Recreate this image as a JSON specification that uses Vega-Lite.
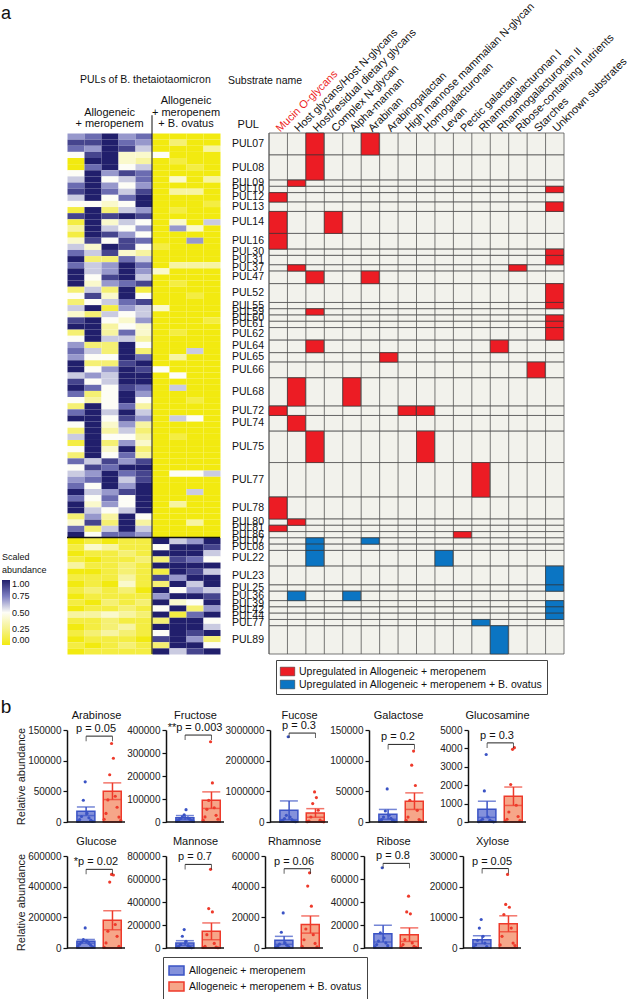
{
"$schema":"https://vega.github.io/schema/vega-lite/v6.json",
"padding":{"left":0,"top":0,"right":0,"bottom":0},
"config":{"font":"Liberation Sans","view":{"stroke":null},
"title":{"fontSize":11,"fontWeight":"normal","color":"#111","offset":2},
"axisY":{"domainColor":"#111","domainWidth":1.5,"tickColor":"#111","tickWidth":1.2,"tickSize":4,"labelFontSize":10,"labelColor":"#222","grid":false,"tickCount":4,"format":"d","minExtent":40,"titleFontSize":11,"titleFontWeight":"normal","titleColor":"#222","titlePadding":1,"labelPadding":2},
"axisX":{"domain":false,"ticks":false,"labels":false,"grid":false,"titlePadding":10,"titleFontSize":11,"titleFontWeight":"normal","titleColor":"#111","minExtent":0},
"text":{"color":"#111"},
"legend":{"labelColor":"#111","titleColor":"#111","labelLimit":400}},
"datasets":{
"hm":[
{"r":0,"c":0,"v":7},{"r":0,"c":1,"v":8},{"r":0,"c":2,"v":10},{"r":0,"c":3,"v":7},{"r":0,"c":4,"v":8},{"r":0,"c":5,"v":0},{"r":0,"c":6,"v":0},{"r":0,"c":7,"v":0},{"r":0,"c":8,"v":0},
{"r":1,"c":0,"v":9},{"r":1,"c":1,"v":9},{"r":1,"c":2,"v":10},{"r":1,"c":3,"v":8},{"r":1,"c":4,"v":7},{"r":1,"c":5,"v":0},{"r":1,"c":6,"v":2},{"r":1,"c":7,"v":0},{"r":1,"c":8,"v":0},
{"r":2,"c":0,"v":8},{"r":2,"c":1,"v":7},{"r":2,"c":2,"v":10},{"r":2,"c":3,"v":9},{"r":2,"c":4,"v":6},{"r":2,"c":5,"v":0},{"r":2,"c":6,"v":0},{"r":2,"c":7,"v":0},{"r":2,"c":8,"v":3},
{"r":3,"c":0,"v":5},{"r":3,"c":1,"v":9},{"r":3,"c":2,"v":10},{"r":3,"c":3,"v":4},{"r":3,"c":4,"v":4},{"r":3,"c":5,"v":5},{"r":3,"c":6,"v":0},{"r":3,"c":7,"v":0},{"r":3,"c":8,"v":0},
{"r":4,"c":0,"v":0},{"r":4,"c":1,"v":10},{"r":4,"c":2,"v":10},{"r":4,"c":3,"v":4},{"r":4,"c":4,"v":3},{"r":4,"c":5,"v":0},{"r":4,"c":6,"v":1},{"r":4,"c":7,"v":0},{"r":4,"c":8,"v":0},
{"r":5,"c":0,"v":0},{"r":5,"c":1,"v":8},{"r":5,"c":2,"v":10},{"r":5,"c":3,"v":5},{"r":5,"c":4,"v":6},{"r":5,"c":5,"v":0},{"r":5,"c":6,"v":0},{"r":5,"c":7,"v":1},{"r":5,"c":8,"v":0},
{"r":6,"c":0,"v":5},{"r":6,"c":1,"v":10},{"r":6,"c":2,"v":7},{"r":6,"c":3,"v":9},{"r":6,"c":4,"v":8},{"r":6,"c":5,"v":0},{"r":6,"c":6,"v":0},{"r":6,"c":7,"v":0},{"r":6,"c":8,"v":0},
{"r":7,"c":0,"v":6},{"r":7,"c":1,"v":10},{"r":7,"c":2,"v":5},{"r":7,"c":3,"v":6},{"r":7,"c":4,"v":8},{"r":7,"c":5,"v":0},{"r":7,"c":6,"v":4},{"r":7,"c":7,"v":0},{"r":7,"c":8,"v":3},
{"r":8,"c":0,"v":8},{"r":8,"c":1,"v":10},{"r":8,"c":2,"v":7},{"r":8,"c":3,"v":5},{"r":8,"c":4,"v":7},{"r":8,"c":5,"v":0},{"r":8,"c":6,"v":0},{"r":8,"c":7,"v":0},{"r":8,"c":8,"v":0},
{"r":9,"c":0,"v":9},{"r":9,"c":1,"v":10},{"r":9,"c":2,"v":8},{"r":9,"c":3,"v":6},{"r":9,"c":4,"v":9},{"r":9,"c":5,"v":0},{"r":9,"c":6,"v":3},{"r":9,"c":7,"v":3},{"r":9,"c":8,"v":0},
{"r":10,"c":0,"v":6},{"r":10,"c":1,"v":10},{"r":10,"c":2,"v":5},{"r":10,"c":3,"v":8},{"r":10,"c":4,"v":10},{"r":10,"c":5,"v":0},{"r":10,"c":6,"v":0},{"r":10,"c":7,"v":0},{"r":10,"c":8,"v":0},
{"r":11,"c":0,"v":5},{"r":11,"c":1,"v":5},{"r":11,"c":2,"v":4},{"r":11,"c":3,"v":5},{"r":11,"c":4,"v":10},{"r":11,"c":5,"v":0},{"r":11,"c":6,"v":0},{"r":11,"c":7,"v":0},{"r":11,"c":8,"v":1},
{"r":12,"c":0,"v":1},{"r":12,"c":1,"v":10},{"r":12,"c":2,"v":2},{"r":12,"c":3,"v":6},{"r":12,"c":4,"v":7},{"r":12,"c":5,"v":0},{"r":12,"c":6,"v":1},{"r":12,"c":7,"v":0},{"r":12,"c":8,"v":0},
{"r":13,"c":0,"v":9},{"r":13,"c":1,"v":10},{"r":13,"c":2,"v":9},{"r":13,"c":3,"v":10},{"r":13,"c":4,"v":9},{"r":13,"c":5,"v":0},{"r":13,"c":6,"v":0},{"r":13,"c":7,"v":0},{"r":13,"c":8,"v":0},
{"r":14,"c":0,"v":1},{"r":14,"c":1,"v":10},{"r":14,"c":2,"v":4},{"r":14,"c":3,"v":6},{"r":14,"c":4,"v":5},{"r":14,"c":5,"v":0},{"r":14,"c":6,"v":4},{"r":14,"c":7,"v":0},{"r":14,"c":8,"v":6},
{"r":15,"c":0,"v":3},{"r":15,"c":1,"v":10},{"r":15,"c":2,"v":6},{"r":15,"c":3,"v":5},{"r":15,"c":4,"v":7},{"r":15,"c":5,"v":0},{"r":15,"c":6,"v":7},{"r":15,"c":7,"v":4},{"r":15,"c":8,"v":0},
{"r":16,"c":0,"v":1},{"r":16,"c":1,"v":10},{"r":16,"c":2,"v":9},{"r":16,"c":3,"v":7},{"r":16,"c":4,"v":5},{"r":16,"c":5,"v":0},{"r":16,"c":6,"v":0},{"r":16,"c":7,"v":0},{"r":16,"c":8,"v":0},
{"r":17,"c":0,"v":4},{"r":17,"c":1,"v":9},{"r":17,"c":2,"v":5},{"r":17,"c":3,"v":9},{"r":17,"c":4,"v":8},{"r":17,"c":5,"v":0},{"r":17,"c":6,"v":0},{"r":17,"c":7,"v":7},{"r":17,"c":8,"v":0},
{"r":18,"c":0,"v":6},{"r":18,"c":1,"v":4},{"r":18,"c":2,"v":10},{"r":18,"c":3,"v":9},{"r":18,"c":4,"v":5},{"r":18,"c":5,"v":1},{"r":18,"c":6,"v":0},{"r":18,"c":7,"v":0},{"r":18,"c":8,"v":0},
{"r":19,"c":0,"v":8},{"r":19,"c":1,"v":6},{"r":19,"c":2,"v":9},{"r":19,"c":3,"v":4},{"r":19,"c":4,"v":3},{"r":19,"c":5,"v":0},{"r":19,"c":6,"v":0},{"r":19,"c":7,"v":0},{"r":19,"c":8,"v":0},
{"r":20,"c":0,"v":10},{"r":20,"c":1,"v":2},{"r":20,"c":2,"v":2},{"r":20,"c":3,"v":8},{"r":20,"c":4,"v":6},{"r":20,"c":5,"v":0},{"r":20,"c":6,"v":0},{"r":20,"c":7,"v":0},{"r":20,"c":8,"v":0},
{"r":21,"c":0,"v":8},{"r":21,"c":1,"v":6},{"r":21,"c":2,"v":7},{"r":21,"c":3,"v":10},{"r":21,"c":4,"v":8},{"r":21,"c":5,"v":0},{"r":21,"c":6,"v":3},{"r":21,"c":7,"v":3},{"r":21,"c":8,"v":3},
{"r":22,"c":0,"v":10},{"r":22,"c":1,"v":6},{"r":22,"c":2,"v":7},{"r":22,"c":3,"v":10},{"r":22,"c":4,"v":7},{"r":22,"c":5,"v":4},{"r":22,"c":6,"v":0},{"r":22,"c":7,"v":0},{"r":22,"c":8,"v":0},
{"r":23,"c":0,"v":10},{"r":23,"c":1,"v":5},{"r":23,"c":2,"v":9},{"r":23,"c":3,"v":10},{"r":23,"c":4,"v":6},{"r":23,"c":5,"v":0},{"r":23,"c":6,"v":0},{"r":23,"c":7,"v":0},{"r":23,"c":8,"v":0},
{"r":24,"c":0,"v":10},{"r":24,"c":1,"v":4},{"r":24,"c":2,"v":7},{"r":24,"c":3,"v":8},{"r":24,"c":4,"v":9},{"r":24,"c":5,"v":0},{"r":24,"c":6,"v":1},{"r":24,"c":7,"v":0},{"r":24,"c":8,"v":0},
{"r":25,"c":0,"v":2},{"r":25,"c":1,"v":6},{"r":25,"c":2,"v":2},{"r":25,"c":3,"v":10},{"r":25,"c":4,"v":1},{"r":25,"c":5,"v":0},{"r":25,"c":6,"v":0},{"r":25,"c":7,"v":0},{"r":25,"c":8,"v":0},
{"r":26,"c":0,"v":5},{"r":26,"c":1,"v":9},{"r":26,"c":2,"v":4},{"r":26,"c":3,"v":10},{"r":26,"c":4,"v":5},{"r":26,"c":5,"v":0},{"r":26,"c":6,"v":0},{"r":26,"c":7,"v":1},{"r":26,"c":8,"v":0},
{"r":27,"c":0,"v":2},{"r":27,"c":1,"v":5},{"r":27,"c":2,"v":6},{"r":27,"c":3,"v":8},{"r":27,"c":4,"v":9},{"r":27,"c":5,"v":0},{"r":27,"c":6,"v":0},{"r":27,"c":7,"v":0},{"r":27,"c":8,"v":0},
{"r":28,"c":0,"v":6},{"r":28,"c":1,"v":10},{"r":28,"c":2,"v":1},{"r":28,"c":3,"v":7},{"r":28,"c":4,"v":6},{"r":28,"c":5,"v":4},{"r":28,"c":6,"v":0},{"r":28,"c":7,"v":0},{"r":28,"c":8,"v":0},
{"r":29,"c":0,"v":4},{"r":29,"c":1,"v":2},{"r":29,"c":2,"v":6},{"r":29,"c":3,"v":5},{"r":29,"c":4,"v":6},{"r":29,"c":5,"v":0},{"r":29,"c":6,"v":0},{"r":29,"c":7,"v":0},{"r":29,"c":8,"v":0},
{"r":30,"c":0,"v":9},{"r":30,"c":1,"v":10},{"r":30,"c":2,"v":5},{"r":30,"c":3,"v":4},{"r":30,"c":4,"v":7},{"r":30,"c":5,"v":0},{"r":30,"c":6,"v":0},{"r":30,"c":7,"v":0},{"r":30,"c":8,"v":1},
{"r":31,"c":0,"v":10},{"r":31,"c":1,"v":10},{"r":31,"c":2,"v":3},{"r":31,"c":3,"v":5},{"r":31,"c":4,"v":4},{"r":31,"c":5,"v":0},{"r":31,"c":6,"v":0},{"r":31,"c":7,"v":0},{"r":31,"c":8,"v":0},
{"r":32,"c":0,"v":2},{"r":32,"c":1,"v":10},{"r":32,"c":2,"v":3},{"r":32,"c":3,"v":8},{"r":32,"c":4,"v":4},{"r":32,"c":5,"v":0},{"r":32,"c":6,"v":1},{"r":32,"c":7,"v":0},{"r":32,"c":8,"v":0},
{"r":33,"c":0,"v":5},{"r":33,"c":1,"v":10},{"r":33,"c":2,"v":6},{"r":33,"c":3,"v":6},{"r":33,"c":4,"v":3},{"r":33,"c":5,"v":0},{"r":33,"c":6,"v":0},{"r":33,"c":7,"v":0},{"r":33,"c":8,"v":0},
{"r":34,"c":0,"v":7},{"r":34,"c":1,"v":2},{"r":34,"c":2,"v":2},{"r":34,"c":3,"v":10},{"r":34,"c":4,"v":5},{"r":34,"c":5,"v":0},{"r":34,"c":6,"v":0},{"r":34,"c":7,"v":0},{"r":34,"c":8,"v":0},
{"r":35,"c":0,"v":8},{"r":35,"c":1,"v":6},{"r":35,"c":2,"v":2},{"r":35,"c":3,"v":10},{"r":35,"c":4,"v":2},{"r":35,"c":5,"v":0},{"r":35,"c":6,"v":0},{"r":35,"c":7,"v":6},{"r":35,"c":8,"v":0},
{"r":36,"c":0,"v":7},{"r":36,"c":1,"v":5},{"r":36,"c":2,"v":5},{"r":36,"c":3,"v":10},{"r":36,"c":4,"v":8},{"r":36,"c":5,"v":0},{"r":36,"c":6,"v":3},{"r":36,"c":7,"v":0},{"r":36,"c":8,"v":0},
{"r":37,"c":0,"v":10},{"r":37,"c":1,"v":2},{"r":37,"c":2,"v":2},{"r":37,"c":3,"v":9},{"r":37,"c":4,"v":10},{"r":37,"c":5,"v":0},{"r":37,"c":6,"v":0},{"r":37,"c":7,"v":0},{"r":37,"c":8,"v":0},
{"r":38,"c":0,"v":10},{"r":38,"c":1,"v":5},{"r":38,"c":2,"v":7},{"r":38,"c":3,"v":10},{"r":38,"c":4,"v":9},{"r":38,"c":5,"v":5},{"r":38,"c":6,"v":0},{"r":38,"c":7,"v":0},{"r":38,"c":8,"v":0},
{"r":39,"c":0,"v":6},{"r":39,"c":1,"v":7},{"r":39,"c":2,"v":6},{"r":39,"c":3,"v":10},{"r":39,"c":4,"v":10},{"r":39,"c":5,"v":0},{"r":39,"c":6,"v":5},{"r":39,"c":7,"v":0},{"r":39,"c":8,"v":0},
{"r":40,"c":0,"v":9},{"r":40,"c":1,"v":5},{"r":40,"c":2,"v":6},{"r":40,"c":3,"v":10},{"r":40,"c":4,"v":10},{"r":40,"c":5,"v":0},{"r":40,"c":6,"v":0},{"r":40,"c":7,"v":0},{"r":40,"c":8,"v":0},
{"r":41,"c":0,"v":10},{"r":41,"c":1,"v":8},{"r":41,"c":2,"v":5},{"r":41,"c":3,"v":9},{"r":41,"c":4,"v":8},{"r":41,"c":5,"v":0},{"r":41,"c":6,"v":6},{"r":41,"c":7,"v":0},{"r":41,"c":8,"v":0},
{"r":42,"c":0,"v":8},{"r":42,"c":1,"v":2},{"r":42,"c":2,"v":5},{"r":42,"c":3,"v":10},{"r":42,"c":4,"v":7},{"r":42,"c":5,"v":0},{"r":42,"c":6,"v":0},{"r":42,"c":7,"v":0},{"r":42,"c":8,"v":0},
{"r":43,"c":0,"v":5},{"r":43,"c":1,"v":3},{"r":43,"c":2,"v":5},{"r":43,"c":3,"v":10},{"r":43,"c":4,"v":5},{"r":43,"c":5,"v":0},{"r":43,"c":6,"v":0},{"r":43,"c":7,"v":1},{"r":43,"c":8,"v":0},
{"r":44,"c":0,"v":2},{"r":44,"c":1,"v":10},{"r":44,"c":2,"v":5},{"r":44,"c":3,"v":8},{"r":44,"c":4,"v":3},{"r":44,"c":5,"v":0},{"r":44,"c":6,"v":0},{"r":44,"c":7,"v":0},{"r":44,"c":8,"v":0},
{"r":45,"c":0,"v":8},{"r":45,"c":1,"v":10},{"r":45,"c":2,"v":6},{"r":45,"c":3,"v":10},{"r":45,"c":4,"v":6},{"r":45,"c":5,"v":0},{"r":45,"c":6,"v":0},{"r":45,"c":7,"v":0},{"r":45,"c":8,"v":0},
{"r":46,"c":0,"v":10},{"r":46,"c":1,"v":10},{"r":46,"c":2,"v":5},{"r":46,"c":3,"v":9},{"r":46,"c":4,"v":7},{"r":46,"c":5,"v":0},{"r":46,"c":6,"v":6},{"r":46,"c":7,"v":5},{"r":46,"c":8,"v":0},
{"r":47,"c":0,"v":5},{"r":47,"c":1,"v":10},{"r":47,"c":2,"v":4},{"r":47,"c":3,"v":7},{"r":47,"c":4,"v":3},{"r":47,"c":5,"v":0},{"r":47,"c":6,"v":0},{"r":47,"c":7,"v":0},{"r":47,"c":8,"v":0},
{"r":48,"c":0,"v":2},{"r":48,"c":1,"v":10},{"r":48,"c":2,"v":3},{"r":48,"c":3,"v":6},{"r":48,"c":4,"v":2},{"r":48,"c":5,"v":0},{"r":48,"c":6,"v":0},{"r":48,"c":7,"v":0},{"r":48,"c":8,"v":0},
{"r":49,"c":0,"v":6},{"r":49,"c":1,"v":10},{"r":49,"c":2,"v":5},{"r":49,"c":3,"v":5},{"r":49,"c":4,"v":3},{"r":49,"c":5,"v":0},{"r":49,"c":6,"v":1},{"r":49,"c":7,"v":0},{"r":49,"c":8,"v":0},
{"r":50,"c":0,"v":1},{"r":50,"c":1,"v":10},{"r":50,"c":2,"v":2},{"r":50,"c":3,"v":7},{"r":50,"c":4,"v":4},{"r":50,"c":5,"v":0},{"r":50,"c":6,"v":0},{"r":50,"c":7,"v":0},{"r":50,"c":8,"v":0},
{"r":51,"c":0,"v":5},{"r":51,"c":1,"v":10},{"r":51,"c":2,"v":4},{"r":51,"c":3,"v":10},{"r":51,"c":4,"v":2},{"r":51,"c":5,"v":0},{"r":51,"c":6,"v":0},{"r":51,"c":7,"v":0},{"r":51,"c":8,"v":0},
{"r":52,"c":0,"v":2},{"r":52,"c":1,"v":10},{"r":52,"c":2,"v":5},{"r":52,"c":3,"v":8},{"r":52,"c":4,"v":3},{"r":52,"c":5,"v":0},{"r":52,"c":6,"v":0},{"r":52,"c":7,"v":0},{"r":52,"c":8,"v":0},
{"r":53,"c":0,"v":8},{"r":53,"c":1,"v":6},{"r":53,"c":2,"v":9},{"r":53,"c":3,"v":7},{"r":53,"c":4,"v":9},{"r":53,"c":5,"v":0},{"r":53,"c":6,"v":0},{"r":53,"c":7,"v":0},{"r":53,"c":8,"v":0},
{"r":54,"c":0,"v":5},{"r":54,"c":1,"v":9},{"r":54,"c":2,"v":8},{"r":54,"c":3,"v":10},{"r":54,"c":4,"v":10},{"r":54,"c":5,"v":0},{"r":54,"c":6,"v":0},{"r":54,"c":7,"v":0},{"r":54,"c":8,"v":0},
{"r":55,"c":0,"v":6},{"r":55,"c":1,"v":7},{"r":55,"c":2,"v":10},{"r":55,"c":3,"v":8},{"r":55,"c":4,"v":9},{"r":55,"c":5,"v":0},{"r":55,"c":6,"v":5},{"r":55,"c":7,"v":5},{"r":55,"c":8,"v":6},
{"r":56,"c":0,"v":7},{"r":56,"c":1,"v":8},{"r":56,"c":2,"v":10},{"r":56,"c":3,"v":6},{"r":56,"c":4,"v":9},{"r":56,"c":5,"v":0},{"r":56,"c":6,"v":0},{"r":56,"c":7,"v":0},{"r":56,"c":8,"v":0},
{"r":57,"c":0,"v":8},{"r":57,"c":1,"v":5},{"r":57,"c":2,"v":10},{"r":57,"c":3,"v":7},{"r":57,"c":4,"v":10},{"r":57,"c":5,"v":0},{"r":57,"c":6,"v":0},{"r":57,"c":7,"v":0},{"r":57,"c":8,"v":0},
{"r":58,"c":0,"v":10},{"r":58,"c":1,"v":6},{"r":58,"c":2,"v":7},{"r":58,"c":3,"v":9},{"r":58,"c":4,"v":10},{"r":58,"c":5,"v":0},{"r":58,"c":6,"v":0},{"r":58,"c":7,"v":6},{"r":58,"c":8,"v":0},
{"r":59,"c":0,"v":8},{"r":59,"c":1,"v":5},{"r":59,"c":2,"v":8},{"r":59,"c":3,"v":5},{"r":59,"c":4,"v":10},{"r":59,"c":5,"v":0},{"r":59,"c":6,"v":0},{"r":59,"c":7,"v":0},{"r":59,"c":8,"v":0},
{"r":60,"c":0,"v":10},{"r":60,"c":1,"v":4},{"r":60,"c":2,"v":7},{"r":60,"c":3,"v":5},{"r":60,"c":4,"v":10},{"r":60,"c":5,"v":0},{"r":60,"c":6,"v":3},{"r":60,"c":7,"v":0},{"r":60,"c":8,"v":0},
{"r":61,"c":0,"v":10},{"r":61,"c":1,"v":6},{"r":61,"c":2,"v":5},{"r":61,"c":3,"v":6},{"r":61,"c":4,"v":10},{"r":61,"c":5,"v":0},{"r":61,"c":6,"v":0},{"r":61,"c":7,"v":0},{"r":61,"c":8,"v":0},
{"r":62,"c":0,"v":2},{"r":62,"c":1,"v":7},{"r":62,"c":2,"v":3},{"r":62,"c":3,"v":10},{"r":62,"c":4,"v":5},{"r":62,"c":5,"v":0},{"r":62,"c":6,"v":0},{"r":62,"c":7,"v":0},{"r":62,"c":8,"v":0},
{"r":63,"c":0,"v":4},{"r":63,"c":1,"v":9},{"r":63,"c":2,"v":2},{"r":63,"c":3,"v":10},{"r":63,"c":4,"v":3},{"r":63,"c":5,"v":0},{"r":63,"c":6,"v":0},{"r":63,"c":7,"v":3},{"r":63,"c":8,"v":0},
{"r":64,"c":0,"v":8},{"r":64,"c":1,"v":2},{"r":64,"c":2,"v":6},{"r":64,"c":3,"v":10},{"r":64,"c":4,"v":6},{"r":64,"c":5,"v":0},{"r":64,"c":6,"v":0},{"r":64,"c":7,"v":0},{"r":64,"c":8,"v":0},
{"r":65,"c":0,"v":10},{"r":65,"c":1,"v":5},{"r":65,"c":2,"v":8},{"r":65,"c":3,"v":8},{"r":65,"c":4,"v":7},{"r":65,"c":5,"v":0},{"r":65,"c":6,"v":0},{"r":65,"c":7,"v":0},{"r":65,"c":8,"v":0},
{"r":66,"c":0,"v":0},{"r":66,"c":1,"v":1},{"r":66,"c":2,"v":0},{"r":66,"c":3,"v":1},{"r":66,"c":4,"v":1},{"r":66,"c":5,"v":10},{"r":66,"c":6,"v":6},{"r":66,"c":7,"v":7},{"r":66,"c":8,"v":10},
{"r":67,"c":0,"v":1},{"r":67,"c":1,"v":4},{"r":67,"c":2,"v":3},{"r":67,"c":3,"v":1},{"r":67,"c":4,"v":1},{"r":67,"c":5,"v":5},{"r":67,"c":6,"v":10},{"r":67,"c":7,"v":10},{"r":67,"c":8,"v":9},
{"r":68,"c":0,"v":0},{"r":68,"c":1,"v":1},{"r":68,"c":2,"v":1},{"r":68,"c":3,"v":2},{"r":68,"c":4,"v":1},{"r":68,"c":5,"v":10},{"r":68,"c":6,"v":10},{"r":68,"c":7,"v":10},{"r":68,"c":8,"v":6},
{"r":69,"c":0,"v":1},{"r":69,"c":1,"v":0},{"r":69,"c":2,"v":1},{"r":69,"c":3,"v":1},{"r":69,"c":4,"v":2},{"r":69,"c":5,"v":2},{"r":69,"c":6,"v":9},{"r":69,"c":7,"v":8},{"r":69,"c":8,"v":5},
{"r":70,"c":0,"v":3},{"r":70,"c":1,"v":1},{"r":70,"c":2,"v":1},{"r":70,"c":3,"v":2},{"r":70,"c":4,"v":1},{"r":70,"c":5,"v":10},{"r":70,"c":6,"v":10},{"r":70,"c":7,"v":10},{"r":70,"c":8,"v":10},
{"r":71,"c":0,"v":0},{"r":71,"c":1,"v":0},{"r":71,"c":2,"v":1},{"r":71,"c":3,"v":2},{"r":71,"c":4,"v":1},{"r":71,"c":5,"v":1},{"r":71,"c":6,"v":10},{"r":71,"c":7,"v":9},{"r":71,"c":8,"v":6},
{"r":72,"c":0,"v":1},{"r":72,"c":1,"v":1},{"r":72,"c":2,"v":1},{"r":72,"c":3,"v":3},{"r":72,"c":4,"v":1},{"r":72,"c":5,"v":9},{"r":72,"c":6,"v":7},{"r":72,"c":7,"v":10},{"r":72,"c":8,"v":10},
{"r":73,"c":0,"v":0},{"r":73,"c":1,"v":1},{"r":73,"c":2,"v":0},{"r":73,"c":3,"v":4},{"r":73,"c":4,"v":1},{"r":73,"c":5,"v":2},{"r":73,"c":6,"v":10},{"r":73,"c":7,"v":6},{"r":73,"c":8,"v":10},
{"r":74,"c":0,"v":1},{"r":74,"c":1,"v":2},{"r":74,"c":2,"v":1},{"r":74,"c":3,"v":2},{"r":74,"c":4,"v":0},{"r":74,"c":5,"v":10},{"r":74,"c":6,"v":5},{"r":74,"c":7,"v":7},{"r":74,"c":8,"v":6},
{"r":75,"c":0,"v":0},{"r":75,"c":1,"v":1},{"r":75,"c":2,"v":1},{"r":75,"c":3,"v":1},{"r":75,"c":4,"v":1},{"r":75,"c":5,"v":7},{"r":75,"c":6,"v":10},{"r":75,"c":7,"v":10},{"r":75,"c":8,"v":9},
{"r":76,"c":0,"v":1},{"r":76,"c":1,"v":0},{"r":76,"c":2,"v":2},{"r":76,"c":3,"v":1},{"r":76,"c":4,"v":2},{"r":76,"c":5,"v":10},{"r":76,"c":6,"v":4},{"r":76,"c":7,"v":5},{"r":76,"c":8,"v":10},
{"r":77,"c":0,"v":0},{"r":77,"c":1,"v":1},{"r":77,"c":2,"v":1},{"r":77,"c":3,"v":2},{"r":77,"c":4,"v":1},{"r":77,"c":5,"v":5},{"r":77,"c":6,"v":10},{"r":77,"c":7,"v":2},{"r":77,"c":8,"v":7},
{"r":78,"c":0,"v":3},{"r":78,"c":1,"v":3},{"r":78,"c":2,"v":4},{"r":78,"c":3,"v":3},{"r":78,"c":4,"v":2},{"r":78,"c":5,"v":10},{"r":78,"c":6,"v":1},{"r":78,"c":7,"v":8},{"r":78,"c":8,"v":10},
{"r":79,"c":0,"v":1},{"r":79,"c":1,"v":1},{"r":79,"c":2,"v":2},{"r":79,"c":3,"v":1},{"r":79,"c":4,"v":1},{"r":79,"c":5,"v":2},{"r":79,"c":6,"v":10},{"r":79,"c":7,"v":10},{"r":79,"c":8,"v":5},
{"r":80,"c":0,"v":0},{"r":80,"c":1,"v":1},{"r":80,"c":2,"v":2},{"r":80,"c":3,"v":3},{"r":80,"c":4,"v":1},{"r":80,"c":5,"v":10},{"r":80,"c":6,"v":10},{"r":80,"c":7,"v":10},{"r":80,"c":8,"v":6},
{"r":81,"c":0,"v":1},{"r":81,"c":1,"v":2},{"r":81,"c":2,"v":3},{"r":81,"c":3,"v":2},{"r":81,"c":4,"v":1},{"r":81,"c":5,"v":5},{"r":81,"c":6,"v":10},{"r":81,"c":7,"v":9},{"r":81,"c":8,"v":10},
{"r":82,"c":0,"v":0},{"r":82,"c":1,"v":1},{"r":82,"c":2,"v":1},{"r":82,"c":3,"v":1},{"r":82,"c":4,"v":0},{"r":82,"c":5,"v":9},{"r":82,"c":6,"v":10},{"r":82,"c":7,"v":7},{"r":82,"c":8,"v":2},
{"r":83,"c":0,"v":1},{"r":83,"c":1,"v":0},{"r":83,"c":2,"v":1},{"r":83,"c":3,"v":2},{"r":83,"c":4,"v":1},{"r":83,"c":5,"v":2},{"r":83,"c":6,"v":10},{"r":83,"c":7,"v":10},{"r":83,"c":8,"v":5},
{"r":84,"c":0,"v":0},{"r":84,"c":1,"v":1},{"r":84,"c":2,"v":1},{"r":84,"c":3,"v":1},{"r":84,"c":4,"v":1},{"r":84,"c":5,"v":10},{"r":84,"c":6,"v":6},{"r":84,"c":7,"v":9},{"r":84,"c":8,"v":10}
],
"pl":[{"p":"PUL07","s":0,"e":7},{"p":"PUL08","s":7,"e":15},{"p":"PUL09","s":15,"e":17},{"p":"PUL10","s":17,"e":19},{"p":"PUL12","s":19,"e":22},{"p":"PUL13","s":22,"e":25},{"p":"PUL14","s":25,"e":32},{"p":"PUL16","s":32,"e":37},{"p":"PUL30","s":37,"e":39},{"p":"PUL31","s":39,"e":42},{"p":"PUL37","s":42,"e":44},{"p":"PUL47","s":44,"e":48},{"p":"PUL52","s":48,"e":54},{"p":"PUL55","s":54,"e":56},{"p":"PUL59","s":56,"e":58},{"p":"PUL60","s":58,"e":60},{"p":"PUL61","s":60,"e":62},{"p":"PUL62","s":62,"e":66},{"p":"PUL64","s":66,"e":70},{"p":"PUL65","s":70,"e":73},{"p":"PUL66","s":73,"e":78},{"p":"PUL68","s":78,"e":87},{"p":"PUL72","s":87,"e":90},{"p":"PUL74","s":90,"e":95},{"p":"PUL75","s":95,"e":105},{"p":"PUL77","s":105,"e":116},{"p":"PUL78","s":116,"e":123},{"p":"PUL80","s":123,"e":125},{"p":"PUL81","s":125,"e":127},{"p":"PUL86","s":127,"e":129},{"p":"PUL07","s":129,"e":131},{"p":"PUL08","s":131,"e":133},{"p":"PUL22","s":133,"e":138},{"p":"PUL23","s":138,"e":144},{"p":"PUL25","s":144,"e":146},{"p":"PUL36","s":146,"e":149},{"p":"PUL39","s":149,"e":151},{"p":"PUL42","s":151,"e":153},{"p":"PUL44","s":153,"e":155},{"p":"PUL77","s":155,"e":157},{"p":"PUL89","s":157,"e":166}],
"sb":[{"n":"Mucin O-glycans"},{"n":"Host glycans/Host N-glycans"},{"n":"Host/residual dietary glycans"},{"n":"Complex N-glycan"},{"n":"Alpha-mannan"},{"n":"Arabinan"},{"n":"Arabinogalactan"},{"n":"High mannose mammalian N-glycan"},{"n":"Homogalacturonan"},{"n":"Levan"},{"n":"Pectic galactan"},{"n":"Rhamnogalacturonan I"},{"n":"Rhamnogalacturonan II"},{"n":"Ribose-containing nutrients"},{"n":"Starches"},{"n":"Unknown substrates"}],
"cl":[
{"s":0,"e":7,"x":"Host/residual dietary glycans","d":"A"},{"s":0,"e":7,"x":"Arabinan","d":"A"},
{"s":7,"e":15,"x":"Host/residual dietary glycans","d":"A"},
{"s":15,"e":17,"x":"Host glycans/Host N-glycans","d":"A"},
{"s":17,"e":19,"x":"Unknown substrates","d":"A"},
{"s":19,"e":22,"x":"Mucin O-glycans","d":"A"},
{"s":22,"e":25,"x":"Unknown substrates","d":"A"},
{"s":25,"e":32,"x":"Mucin O-glycans","d":"A"},{"s":25,"e":32,"x":"Complex N-glycan","d":"A"},
{"s":32,"e":37,"x":"Mucin O-glycans","d":"A"},
{"s":37,"e":39,"x":"Unknown substrates","d":"A"},{"s":39,"e":42,"x":"Unknown substrates","d":"A"},
{"s":42,"e":44,"x":"Host glycans/Host N-glycans","d":"A"},{"s":42,"e":44,"x":"Ribose-containing nutrients","d":"A"},
{"s":44,"e":48,"x":"Host/residual dietary glycans","d":"A"},{"s":44,"e":48,"x":"Arabinan","d":"A"},
{"s":48,"e":54,"x":"Unknown substrates","d":"A"},{"s":54,"e":56,"x":"Unknown substrates","d":"A"},
{"s":56,"e":58,"x":"Host/residual dietary glycans","d":"A"},
{"s":58,"e":60,"x":"Unknown substrates","d":"A"},{"s":60,"e":62,"x":"Unknown substrates","d":"A"},{"s":62,"e":66,"x":"Unknown substrates","d":"A"},
{"s":66,"e":70,"x":"Host/residual dietary glycans","d":"A"},{"s":66,"e":70,"x":"Rhamnogalacturonan II","d":"A"},
{"s":70,"e":73,"x":"Arabinogalactan","d":"A"},
{"s":73,"e":78,"x":"Starches","d":"A"},
{"s":78,"e":87,"x":"Host glycans/Host N-glycans","d":"A"},{"s":78,"e":87,"x":"Alpha-mannan","d":"A"},
{"s":87,"e":90,"x":"Mucin O-glycans","d":"A"},{"s":87,"e":90,"x":"High mannose mammalian N-glycan","d":"A"},{"s":87,"e":90,"x":"Homogalacturonan","d":"A"},
{"s":90,"e":95,"x":"Host glycans/Host N-glycans","d":"A"},
{"s":95,"e":105,"x":"Host/residual dietary glycans","d":"A"},{"s":95,"e":105,"x":"Homogalacturonan","d":"A"},
{"s":105,"e":116,"x":"Rhamnogalacturonan I","d":"A"},
{"s":116,"e":123,"x":"Mucin O-glycans","d":"A"},
{"s":123,"e":125,"x":"Host glycans/Host N-glycans","d":"A"},
{"s":125,"e":127,"x":"Mucin O-glycans","d":"A"},
{"s":127,"e":129,"x":"Pectic galactan","d":"A"},
{"s":129,"e":131,"x":"Host/residual dietary glycans","d":"B"},{"s":129,"e":131,"x":"Arabinan","d":"B"},
{"s":131,"e":133,"x":"Host/residual dietary glycans","d":"B"},
{"s":133,"e":138,"x":"Host/residual dietary glycans","d":"B"},{"s":133,"e":138,"x":"Levan","d":"B"},
{"s":138,"e":144,"x":"Unknown substrates","d":"B"},{"s":144,"e":146,"x":"Unknown substrates","d":"B"},
{"s":146,"e":149,"x":"Host glycans/Host N-glycans","d":"B"},{"s":146,"e":149,"x":"Alpha-mannan","d":"B"},
{"s":149,"e":151,"x":"Unknown substrates","d":"B"},{"s":151,"e":153,"x":"Unknown substrates","d":"B"},{"s":153,"e":155,"x":"Unknown substrates","d":"B"},
{"s":155,"e":157,"x":"Rhamnogalacturonan I","d":"B"},
{"s":157,"e":166,"x":"Rhamnogalacturonan II","d":"B"}
],
"bd":[
{"s":"Arabinose","g":"A","m":17500,"e":7000,"by":140000},{"s":"Arabinose","g":"B","m":50200,"e":13600,"by":140000},{"s":"Arabinose","p":"p = 0.05","by":140000},
{"s":"Fructose","g":"A","m":19000,"e":9000,"by":378000},{"s":"Fructose","g":"B","m":95000,"e":36000,"by":378000},{"s":"Fructose","p":"**p = 0.003","by":378000},
{"s":"Fucose","g":"A","m":382000,"e":305000,"by":2900000},{"s":"Fucose","g":"B","m":295000,"e":140000,"by":2900000},{"s":"Fucose","p":"p = 0.3","by":2900000},
{"s":"Galactose","g":"A","m":12500,"e":8000,"by":126500},{"s":"Galactose","g":"B","m":34000,"e":13500,"by":126500},{"s":"Galactose","p":"p = 0.2","by":126500},
{"s":"Glucosamine","g":"A","m":690,"e":440,"by":4300},{"s":"Glucosamine","g":"B","m":1400,"e":500,"by":4300},{"s":"Glucosamine","p":"p = 0.3","by":4300},
{"s":"Glucose","g":"A","m":43600,"e":12000,"by":513000},{"s":"Glucose","g":"B","m":181000,"e":62000,"by":513000},{"s":"Glucose","p":"*p = 0.02","by":513000},
{"s":"Mannose","g":"A","m":43600,"e":20000,"by":727000},{"s":"Mannose","g":"B","m":145000,"e":73000,"by":727000},{"s":"Mannose","p":"p = 0.7","by":727000},
{"s":"Rhamnose","g":"A","m":5000,"e":2600,"by":51700},{"s":"Rhamnose","g":"B","m":15300,"e":5600,"by":51700},{"s":"Rhamnose","p":"p = 0.06","by":51700},
{"s":"Ribose","g":"A","m":12500,"e":7300,"by":73600},{"s":"Ribose","g":"B","m":11600,"e":5900,"by":73600},{"s":"Ribose","p":"p = 0.8","by":73600},
{"s":"Xylose","g":"A","m":2700,"e":1300,"by":25900},{"s":"Xylose","g":"B","m":7900,"e":2600,"by":25900},{"s":"Xylose","p":"p = 0.05","by":25900},
{"s":"Arabinose","g":"A","k":5,"v":65500},{"s":"Arabinose","g":"A","k":4,"v":35500},{"s":"Arabinose","g":"A","k":6,"v":14000},{"s":"Arabinose","g":"A","k":3,"v":9000},{"s":"Arabinose","g":"A","k":7,"v":7000},{"s":"Arabinose","g":"A","k":2,"v":4000},{"s":"Arabinose","g":"A","k":8,"v":3000},{"s":"Arabinose","g":"A","k":1,"v":1500},{"s":"Arabinose","g":"A","k":9,"v":1000},
{"s":"Arabinose","g":"B","k":5,"v":128000},{"s":"Arabinose","g":"B","k":6,"v":104000},{"s":"Arabinose","g":"B","k":4,"v":77000},{"s":"Arabinose","g":"B","k":7,"v":42000},{"s":"Arabinose","g":"B","k":3,"v":36000},{"s":"Arabinose","g":"B","k":8,"v":24000},{"s":"Arabinose","g":"B","k":2,"v":14000},{"s":"Arabinose","g":"B","k":9,"v":8000},{"s":"Arabinose","g":"B","k":1,"v":4500},{"s":"Arabinose","g":"B","k":10,"v":2700},
{"s":"Fructose","g":"A","k":6,"v":53800},{"s":"Fructose","g":"A","k":5,"v":31000},{"s":"Fructose","g":"A","k":4,"v":22000},{"s":"Fructose","g":"A","k":7,"v":18000},{"s":"Fructose","g":"A","k":3,"v":15000},{"s":"Fructose","g":"A","k":8,"v":12000},{"s":"Fructose","g":"A","k":2,"v":9000},{"s":"Fructose","g":"A","k":9,"v":6000},{"s":"Fructose","g":"A","k":1,"v":4000},{"s":"Fructose","g":"A","k":10,"v":2000},
{"s":"Fructose","g":"B","k":5,"v":349000},{"s":"Fructose","g":"B","k":6,"v":170000},{"s":"Fructose","g":"B","k":4,"v":94000},{"s":"Fructose","g":"B","k":7,"v":62000},{"s":"Fructose","g":"B","k":3,"v":55000},{"s":"Fructose","g":"B","k":8,"v":29000},{"s":"Fructose","g":"B","k":2,"v":22000},{"s":"Fructose","g":"B","k":9,"v":12000},{"s":"Fructose","g":"B","k":1,"v":8000},
{"s":"Fucose","g":"A","k":5,"v":2780000},{"s":"Fucose","g":"A","k":4,"v":218000},{"s":"Fucose","g":"A","k":6,"v":164000},{"s":"Fucose","g":"A","k":3,"v":109000},{"s":"Fucose","g":"A","k":7,"v":80000},{"s":"Fucose","g":"A","k":2,"v":55000},{"s":"Fucose","g":"A","k":8,"v":30000},{"s":"Fucose","g":"A","k":1,"v":20000},{"s":"Fucose","g":"A","k":9,"v":10000},
{"s":"Fucose","g":"B","k":5,"v":982000},{"s":"Fucose","g":"B","k":6,"v":796000},{"s":"Fucose","g":"B","k":4,"v":600000},{"s":"Fucose","g":"B","k":7,"v":382000},{"s":"Fucose","g":"B","k":3,"v":164000},{"s":"Fucose","g":"B","k":8,"v":60000},{"s":"Fucose","g":"B","k":2,"v":30000},{"s":"Fucose","g":"B","k":9,"v":15000},{"s":"Fucose","g":"B","k":1,"v":10000},{"s":"Fucose","g":"B","k":10,"v":5000},
{"s":"Galactose","g":"A","k":5,"v":54000},{"s":"Galactose","g":"A","k":4,"v":18000},{"s":"Galactose","g":"A","k":6,"v":11000},{"s":"Galactose","g":"A","k":3,"v":8000},{"s":"Galactose","g":"A","k":7,"v":6000},{"s":"Galactose","g":"A","k":2,"v":4000},{"s":"Galactose","g":"A","k":8,"v":3000},{"s":"Galactose","g":"A","k":1,"v":2000},{"s":"Galactose","g":"A","k":9,"v":1000},
{"s":"Galactose","g":"B","k":5,"v":115600},{"s":"Galactose","g":"B","k":4,"v":92700},{"s":"Galactose","g":"B","k":6,"v":59500},{"s":"Galactose","g":"B","k":3,"v":35500},{"s":"Galactose","g":"B","k":7,"v":19000},{"s":"Galactose","g":"B","k":2,"v":8000},{"s":"Galactose","g":"B","k":8,"v":4000},{"s":"Galactose","g":"B","k":1,"v":2700},{"s":"Galactose","g":"B","k":9,"v":1500},
{"s":"Glucosamine","g":"A","k":5,"v":3670},{"s":"Glucosamine","g":"A","k":4,"v":1690},{"s":"Glucosamine","g":"A","k":6,"v":270},{"s":"Glucosamine","g":"A","k":3,"v":150},{"s":"Glucosamine","g":"A","k":7,"v":100},{"s":"Glucosamine","g":"A","k":2,"v":60},{"s":"Glucosamine","g":"A","k":8,"v":40},{"s":"Glucosamine","g":"A","k":1,"v":20},{"s":"Glucosamine","g":"A","k":9,"v":10},
{"s":"Glucosamine","g":"B","k":6,"v":4040},{"s":"Glucosamine","g":"B","k":5,"v":3950},{"s":"Glucosamine","g":"B","k":4,"v":2040},{"s":"Glucosamine","g":"B","k":7,"v":910},{"s":"Glucosamine","g":"B","k":3,"v":545},{"s":"Glucosamine","g":"B","k":8,"v":300},{"s":"Glucosamine","g":"B","k":2,"v":150},{"s":"Glucosamine","g":"B","k":9,"v":80},{"s":"Glucosamine","g":"B","k":1,"v":40},
{"s":"Glucose","g":"A","k":5,"v":131000},{"s":"Glucose","g":"A","k":4,"v":54500},{"s":"Glucose","g":"A","k":6,"v":45000},{"s":"Glucose","g":"A","k":3,"v":38000},{"s":"Glucose","g":"A","k":7,"v":30000},{"s":"Glucose","g":"A","k":2,"v":25000},{"s":"Glucose","g":"A","k":8,"v":18000},{"s":"Glucose","g":"A","k":1,"v":12000},{"s":"Glucose","g":"A","k":9,"v":8000},
{"s":"Glucose","g":"B","k":5,"v":480000},{"s":"Glucose","g":"B","k":6,"v":476000},{"s":"Glucose","g":"B","k":4,"v":430000},{"s":"Glucose","g":"B","k":7,"v":153000},{"s":"Glucose","g":"B","k":3,"v":109000},{"s":"Glucose","g":"B","k":8,"v":76000},{"s":"Glucose","g":"B","k":2,"v":33000},{"s":"Glucose","g":"B","k":9,"v":11000},{"s":"Glucose","g":"B","k":1,"v":5000},
{"s":"Mannose","g":"A","k":5,"v":160000},{"s":"Mannose","g":"A","k":4,"v":102000},{"s":"Mannose","g":"A","k":6,"v":58000},{"s":"Mannose","g":"A","k":3,"v":30000},{"s":"Mannose","g":"A","k":7,"v":20000},{"s":"Mannose","g":"A","k":2,"v":12000},{"s":"Mannose","g":"A","k":8,"v":8000},{"s":"Mannose","g":"A","k":1,"v":4000},{"s":"Mannose","g":"A","k":9,"v":2000},
{"s":"Mannose","g":"B","k":5,"v":684000},{"s":"Mannose","g":"B","k":4,"v":343000},{"s":"Mannose","g":"B","k":6,"v":314000},{"s":"Mannose","g":"B","k":3,"v":116000},{"s":"Mannose","g":"B","k":7,"v":40000},{"s":"Mannose","g":"B","k":2,"v":15000},{"s":"Mannose","g":"B","k":8,"v":8000},{"s":"Mannose","g":"B","k":1,"v":4000},{"s":"Mannose","g":"B","k":9,"v":2000},
{"s":"Rhamnose","g":"A","k":5,"v":22900},{"s":"Rhamnose","g":"A","k":4,"v":10300},{"s":"Rhamnose","g":"A","k":6,"v":3300},{"s":"Rhamnose","g":"A","k":3,"v":2500},{"s":"Rhamnose","g":"A","k":7,"v":1800},{"s":"Rhamnose","g":"A","k":2,"v":1200},{"s":"Rhamnose","g":"A","k":8,"v":800},{"s":"Rhamnose","g":"A","k":1,"v":500},
{"s":"Rhamnose","g":"B","k":5,"v":49000},{"s":"Rhamnose","g":"B","k":4,"v":40400},{"s":"Rhamnose","g":"B","k":6,"v":27300},{"s":"Rhamnose","g":"B","k":3,"v":12400},{"s":"Rhamnose","g":"B","k":7,"v":8700},{"s":"Rhamnose","g":"B","k":2,"v":5400},{"s":"Rhamnose","g":"B","k":8,"v":3000},{"s":"Rhamnose","g":"B","k":1,"v":1100},{"s":"Rhamnose","g":"B","k":9,"v":700},
{"s":"Ribose","g":"A","k":5,"v":69800},{"s":"Ribose","g":"A","k":4,"v":13100},{"s":"Ribose","g":"A","k":6,"v":8700},{"s":"Ribose","g":"A","k":3,"v":6000},{"s":"Ribose","g":"A","k":7,"v":4400},{"s":"Ribose","g":"A","k":2,"v":3000},{"s":"Ribose","g":"A","k":8,"v":2000},{"s":"Ribose","g":"A","k":1,"v":1000},
{"s":"Ribose","g":"B","k":5,"v":45100},{"s":"Ribose","g":"B","k":4,"v":31400},{"s":"Ribose","g":"B","k":6,"v":29700},{"s":"Ribose","g":"B","k":3,"v":7300},{"s":"Ribose","g":"B","k":7,"v":4400},{"s":"Ribose","g":"B","k":2,"v":3000},{"s":"Ribose","g":"B","k":8,"v":1500},{"s":"Ribose","g":"B","k":1,"v":1000},{"s":"Ribose","g":"B","k":9,"v":500},
{"s":"Xylose","g":"A","k":5,"v":9300},{"s":"Xylose","g":"A","k":4,"v":6500},{"s":"Xylose","g":"A","k":6,"v":3800},{"s":"Xylose","g":"A","k":3,"v":2500},{"s":"Xylose","g":"A","k":7,"v":1600},{"s":"Xylose","g":"A","k":2,"v":1000},{"s":"Xylose","g":"A","k":8,"v":500},{"s":"Xylose","g":"A","k":1,"v":300},
{"s":"Xylose","g":"B","k":5,"v":24000},{"s":"Xylose","g":"B","k":4,"v":14200},{"s":"Xylose","g":"B","k":6,"v":13300},{"s":"Xylose","g":"B","k":3,"v":10900},{"s":"Xylose","g":"B","k":7,"v":6500},{"s":"Xylose","g":"B","k":2,"v":3800},{"s":"Xylose","g":"B","k":8,"v":1600},{"s":"Xylose","g":"B","k":1,"v":1000},{"s":"Xylose","g":"B","k":9,"v":800}
]},
"resolve":{"scale":{"color":"independent","fill":"independent","stroke":"independent"}},
"columns":1,
"spacing":3,
"concat":[
{"spacing":7,
 "hconcat":[
 {"width":153,"height":521,
  "layer":[
   {"data":{"name":"hm"},"mark":"rect","encoding":{
     "x":{"field":"c","type":"quantitative","bin":{"binned":true,"step":1},"scale":{"domain":[0,9],"nice":false},"axis":null},
     "y":{"field":"r","type":"quantitative","bin":{"binned":true,"step":1},"scale":{"domain":[0,85],"nice":false,"reverse":true},"axis":null},
     "color":{"field":"v","type":"quantitative","scale":{"domain":[0,2.5,5,7.5,10],"range":["#f2ea10","#f6f28c","#fdfdf6","#7d7fc2","#211f6c"],"interpolate":"rgb"},
       "legend":{"orient":"none","legendX":-65,"legendY":420,"title":["Scaled","abundance"],"titleFontSize":9,"titleFontWeight":"normal","titleLineHeight":13,"gradientLength":65,"gradientThickness":8,"labelFontSize":9,"values":[0,2.5,5,7.5,10],"labelExpr":"format(datum.value/10,'.2f')","direction":"vertical","labelOverlap":false}}}},
   {"data":{"values":[{}]},"mark":{"type":"rule","color":"#111","strokeWidth":1},"encoding":{"x":{"datum":5},"y":{"datum":-2.9},"y2":{"datum":85}}},
   {"data":{"values":[{}]},"mark":{"type":"rule","color":"#111","strokeWidth":1.5},"encoding":{"x":{"datum":0},"x2":{"datum":9},"y":{"datum":66}}},
   {"data":{"values":[{}]},"mark":{"type":"text","lineBreak":"\n","baseline":"bottom","fontSize":11,"lineHeight":11.5,"dy":-11.5},"encoding":{"text":{"value":"Allogeneic\n+ meropenem"},"x":{"datum":2.5},"y":{"datum":-0.6}}},
   {"data":{"values":[{}]},"mark":{"type":"text","lineBreak":"\n","baseline":"bottom","fontSize":11,"lineHeight":11.5,"dy":-23},"encoding":{"text":{"value":"Allogeneic\n+ meropenem\n+ B. ovatus"},"x":{"datum":7},"y":{"datum":-0.6}}},
   {"data":{"values":[{}]},"mark":{"type":"text","align":"left","baseline":"middle","fontSize":10.5,"dx":13},"encoding":{"text":{"value":"PULs of B. thetaiotaomicron"},"x":{"datum":0},"y":{"datum":-8.65}}},
   {"data":{"values":[{}]},"mark":{"type":"text","align":"center","baseline":"alphabetic","fontSize":18,"dx":-61},"encoding":{"text":{"value":"a"},"x":{"datum":0},"y":{"datum":-18.6}}}
  ]},
 {"width":295,"height":521,
  "layer":[
   {"data":{"name":"pl"},"mark":{"type":"rect","fill":"#f2f2ec","stroke":"#555","strokeWidth":0.8},"encoding":{"y":{"field":"s","type":"quantitative","scale":{"domain":[0,166],"nice":false,"reverse":true},"axis":null},"y2":{"field":"e"}}},
   {"data":{"name":"sb"},"mark":{"type":"rule","color":"#555","strokeWidth":0.8},"encoding":{"x":{"field":"n","type":"nominal","bandPosition":0,"scale":{"domain":["Mucin O-glycans","Host glycans/Host N-glycans","Host/residual dietary glycans","Complex N-glycan","Alpha-mannan","Arabinan","Arabinogalactan","High mannose mammalian N-glycan","Homogalacturonan","Levan","Pectic galactan","Rhamnogalacturonan I","Rhamnogalacturonan II","Ribose-containing nutrients","Starches","Unknown substrates"],"paddingInner":0,"paddingOuter":0},
     "axis":{"orient":"top","title":null,"labels":true,"ticks":false,"domain":false,"labelAngle":-45,"labelAlign":"left","labelBaseline":"middle","labelFontSize":11,"labelPadding":3,"labelLimit":260,"labelOverlap":false,"labelColor":{"condition":{"test":"datum.value=='Mucin O-glycans'","value":"#ed1c24"},"value":"#111"}}}}},
   {"data":{"name":"cl"},"mark":{"type":"rect","stroke":"#333","strokeWidth":0.6},"encoding":{"x":{"field":"x","type":"nominal","title":null},"y":{"field":"s","type":"quantitative"},"y2":{"field":"e"},
     "fill":{"field":"d","type":"nominal","scale":{"domain":["A","B"],"range":["#ec1c24","#0b75c3"]},
       "legend":{"orient":"none","legendX":209,"legendY":527,"title":null,"direction":"vertical","strokeColor":"#444","padding":4,"symbolType":"M-1,-0.6H1V0.6H-1Z","symbolSize":210,"symbolStrokeColor":"#333","symbolStrokeWidth":0.5,"labelFontSize":10.5,"rowPadding":0,"labelLimit":400,"labelExpr":"datum.label=='A'?'Upregulated in Allogeneic + meropenem':'Upregulated in Allogeneic + meropenem + B. ovatus'"}}}},
   {"data":{"name":"pl"},"transform":[{"calculate":"(datum.s+datum.e)/2","as":"mid"}],"mark":{"type":"text","align":"right","dx":-5,"fontSize":10.5,"baseline":"middle"},"encoding":{"text":{"field":"p"},"x":{"datum":"Mucin O-glycans","bandPosition":0},"y":{"field":"mid","type":"quantitative"}}},
   {"data":{"values":[{}]},"mark":{"type":"text","align":"right","dx":-10,"baseline":"bottom","fontSize":11},"encoding":{"text":{"value":"PUL"},"x":{"datum":"Mucin O-glycans","bandPosition":0},"y":{"datum":-0.8}}},
   {"data":{"values":[{}]},"mark":{"type":"text","align":"left","dx":-41,"baseline":"middle","fontSize":10.5},"encoding":{"text":{"value":"Substrate name"},"x":{"datum":"Mucin O-glycans","bandPosition":0},"y":{"datum":-16.5}}}
  ]}
 ]},
{"spacing":8,
 "vconcat":[
 {"spacing":0,"hconcat":[
  {"width":58,"height":92,"data":{"name":"bd"},"transform":[{"filter":"datum.s=='Arabinose'"}],"layer":[
   {"transform":[{"filter":"isValid(datum.m)"}],"mark":{"type":"bar","strokeWidth":1.5},"encoding":{"x":{"field":"g","type":"nominal","scale":{"domain":["A","B"],"paddingInner":0.3,"paddingOuter":0.25,"align":0.75},"axis":{"orient":"top","title":"Arabinose"}},"y":{"field":"m","type":"quantitative","title":"Relative abundance","scale":{"domain":[0,150000],"nice":false},"axis":{"title":"Relative abundance","minExtent":34}},
     "fill":{"field":"g","type":"nominal","scale":{"range":["#8491db","#f6a689"]},"legend":{"orient":"none","legendX":96,"legendY":227,"title":null,"direction":"vertical","strokeColor":"#444","padding":5,"symbolType":"M-1,-0.6H1V0.6H-1Z","symbolSize":225,"symbolStrokeWidth":1.5,"labelFontSize":10.5,"rowPadding":0,"labelLimit":400,"labelExpr":"datum.label=='A'?'Allogeneic + meropenem':'Allogeneic + meropenem + B. ovatus'"}},
     "stroke":{"field":"g","type":"nominal","scale":{"range":["#3a53c5","#ee3a2b"]},"legend":{"orient":"none","legendX":96,"legendY":227,"title":null,"direction":"vertical","strokeColor":"#444","padding":5,"symbolType":"M-1,-0.6H1V0.6H-1Z","symbolSize":225,"symbolStrokeWidth":1.5,"labelFontSize":10.5,"rowPadding":0,"labelLimit":400,"labelExpr":"datum.label=='A'?'Allogeneic + meropenem':'Allogeneic + meropenem + B. ovatus'"}}}},
   {"transform":[{"filter":"isValid(datum.m)"}],"mark":{"type":"errorbar","ticks":true,"thickness":1.5},"encoding":{"x":{"field":"g","type":"nominal"},"y":{"field":"m","type":"quantitative","title":"Relative abundance"},"yError":{"field":"e"},"color":{"field":"g","type":"nominal","scale":{"range":["#3a53c5","#ee3a2b"]},"legend":null}}},
   {"transform":[{"filter":"isValid(datum.v)"}],"mark":{"type":"circle","size":10,"opacity":1},"encoding":{"x":{"field":"g","type":"nominal"},"xOffset":{"field":"k","type":"nominal"},"y":{"field":"v","type":"quantitative","title":"Relative abundance"},"color":{"field":"g","type":"nominal","legend":null}}},
   {"transform":[{"filter":"isValid(datum.m)"}],"mark":{"type":"tick","orient":"vertical","size":5,"yOffset":2.5,"thickness":1,"color":"#222"},"encoding":{"x":{"field":"g","type":"nominal"},"y":{"field":"by","type":"quantitative","title":"Relative abundance"}}},
   {"transform":[{"filter":"isValid(datum.p)"}],"mark":{"type":"rule","color":"#222","strokeWidth":1},"encoding":{"x":{"datum":"A"},"x2":{"datum":"B"},"y":{"field":"by","type":"quantitative","title":"Relative abundance"}}},
   {"transform":[{"filter":"isValid(datum.p)"}],"mark":{"type":"text","fontSize":11,"dy":-4,"baseline":"alphabetic"},"encoding":{"text":{"field":"p"},"y":{"field":"by","type":"quantitative","title":"Relative abundance"}}},
   {"transform":[{"filter":"isValid(datum.p)"}],"mark":{"type":"rule","strokeWidth":1.5,"color":"#111"},"encoding":{"y":{"datum":0}}},
   {"transform":[{"filter":"isValid(datum.p)"}],"mark":{"type":"text","fontSize":19,"dx":-90,"baseline":"alphabetic"},"encoding":{"text":{"value":"b"},"y":{"datum":177700}}}
  ]},
  {"width":58,"height":92,"data":{"name":"bd"},"transform":[{"filter":"datum.s=='Fructose'"}],"layer":[
   {"transform":[{"filter":"isValid(datum.m)"}],"mark":{"type":"bar","strokeWidth":1.5},"encoding":{"x":{"field":"g","type":"nominal","scale":{"domain":["A","B"],"paddingInner":0.3,"paddingOuter":0.25,"align":0.75},"axis":{"orient":"top","title":"Fructose"}},"y":{"field":"m","type":"quantitative","scale":{"domain":[0,400000],"nice":false},"axis":{"title":null}},"fill":{"field":"g","type":"nominal"},"stroke":{"field":"g","type":"nominal"}}},
   {"transform":[{"filter":"isValid(datum.m)"}],"mark":{"type":"errorbar","ticks":true,"thickness":1.5},"encoding":{"x":{"field":"g","type":"nominal"},"y":{"field":"m","type":"quantitative"},"yError":{"field":"e"},"color":{"field":"g","type":"nominal","legend":null}}},
   {"transform":[{"filter":"isValid(datum.v)"}],"mark":{"type":"circle","size":10,"opacity":1},"encoding":{"x":{"field":"g","type":"nominal"},"xOffset":{"field":"k","type":"nominal"},"y":{"field":"v","type":"quantitative"},"color":{"field":"g","type":"nominal","legend":null}}},
   {"transform":[{"filter":"isValid(datum.m)"}],"mark":{"type":"tick","orient":"vertical","size":5,"yOffset":2.5,"thickness":1,"color":"#222"},"encoding":{"x":{"field":"g","type":"nominal"},"y":{"field":"by","type":"quantitative"}}},
   {"transform":[{"filter":"isValid(datum.p)"}],"mark":{"type":"rule","color":"#222","strokeWidth":1},"encoding":{"x":{"datum":"A"},"x2":{"datum":"B"},"y":{"field":"by","type":"quantitative"}}},
   {"transform":[{"filter":"isValid(datum.p)"}],"mark":{"type":"text","fontSize":11,"dy":-4,"baseline":"alphabetic"},"encoding":{"text":{"field":"p"},"y":{"field":"by","type":"quantitative"}}},
   {"transform":[{"filter":"isValid(datum.p)"}],"mark":{"type":"rule","strokeWidth":1.5,"color":"#111"},"encoding":{"y":{"datum":0}}}
  ]},
  {"width":58,"height":92,"data":{"name":"bd"},"transform":[{"filter":"datum.s=='Fucose'"}],"layer":[
   {"transform":[{"filter":"isValid(datum.m)"}],"mark":{"type":"bar","strokeWidth":1.5},"encoding":{"x":{"field":"g","type":"nominal","scale":{"domain":["A","B"],"paddingInner":0.3,"paddingOuter":0.25,"align":0.75},"axis":{"orient":"top","title":"Fucose"}},"y":{"field":"m","type":"quantitative","scale":{"domain":[0,3000000],"nice":false},"axis":{"title":null}},"fill":{"field":"g","type":"nominal"},"stroke":{"field":"g","type":"nominal"}}},
   {"transform":[{"filter":"isValid(datum.m)"}],"mark":{"type":"errorbar","ticks":true,"thickness":1.5},"encoding":{"x":{"field":"g","type":"nominal"},"y":{"field":"m","type":"quantitative"},"yError":{"field":"e"},"color":{"field":"g","type":"nominal","legend":null}}},
   {"transform":[{"filter":"isValid(datum.v)"}],"mark":{"type":"circle","size":10,"opacity":1},"encoding":{"x":{"field":"g","type":"nominal"},"xOffset":{"field":"k","type":"nominal"},"y":{"field":"v","type":"quantitative"},"color":{"field":"g","type":"nominal","legend":null}}},
   {"transform":[{"filter":"isValid(datum.m)"}],"mark":{"type":"tick","orient":"vertical","size":5,"yOffset":2.5,"thickness":1,"color":"#222"},"encoding":{"x":{"field":"g","type":"nominal"},"y":{"field":"by","type":"quantitative"}}},
   {"transform":[{"filter":"isValid(datum.p)"}],"mark":{"type":"rule","color":"#222","strokeWidth":1},"encoding":{"x":{"datum":"A"},"x2":{"datum":"B"},"y":{"field":"by","type":"quantitative"}}},
   {"transform":[{"filter":"isValid(datum.p)"}],"mark":{"type":"text","fontSize":11,"dy":-4,"baseline":"alphabetic"},"encoding":{"text":{"field":"p"},"y":{"field":"by","type":"quantitative"}}},
   {"transform":[{"filter":"isValid(datum.p)"}],"mark":{"type":"rule","strokeWidth":1.5,"color":"#111"},"encoding":{"y":{"datum":0}}}
  ]},
  {"width":58,"height":92,"data":{"name":"bd"},"transform":[{"filter":"datum.s=='Galactose'"}],"layer":[
   {"transform":[{"filter":"isValid(datum.m)"}],"mark":{"type":"bar","strokeWidth":1.5},"encoding":{"x":{"field":"g","type":"nominal","scale":{"domain":["A","B"],"paddingInner":0.3,"paddingOuter":0.25,"align":0.75},"axis":{"orient":"top","title":"Galactose"}},"y":{"field":"m","type":"quantitative","scale":{"domain":[0,150000],"nice":false},"axis":{"title":null}},"fill":{"field":"g","type":"nominal"},"stroke":{"field":"g","type":"nominal"}}},
   {"transform":[{"filter":"isValid(datum.m)"}],"mark":{"type":"errorbar","ticks":true,"thickness":1.5},"encoding":{"x":{"field":"g","type":"nominal"},"y":{"field":"m","type":"quantitative"},"yError":{"field":"e"},"color":{"field":"g","type":"nominal","legend":null}}},
   {"transform":[{"filter":"isValid(datum.v)"}],"mark":{"type":"circle","size":10,"opacity":1},"encoding":{"x":{"field":"g","type":"nominal"},"xOffset":{"field":"k","type":"nominal"},"y":{"field":"v","type":"quantitative"},"color":{"field":"g","type":"nominal","legend":null}}},
   {"transform":[{"filter":"isValid(datum.m)"}],"mark":{"type":"tick","orient":"vertical","size":5,"yOffset":2.5,"thickness":1,"color":"#222"},"encoding":{"x":{"field":"g","type":"nominal"},"y":{"field":"by","type":"quantitative"}}},
   {"transform":[{"filter":"isValid(datum.p)"}],"mark":{"type":"rule","color":"#222","strokeWidth":1},"encoding":{"x":{"datum":"A"},"x2":{"datum":"B"},"y":{"field":"by","type":"quantitative"}}},
   {"transform":[{"filter":"isValid(datum.p)"}],"mark":{"type":"text","fontSize":11,"dy":-4,"baseline":"alphabetic"},"encoding":{"text":{"field":"p"},"y":{"field":"by","type":"quantitative"}}},
   {"transform":[{"filter":"isValid(datum.p)"}],"mark":{"type":"rule","strokeWidth":1.5,"color":"#111"},"encoding":{"y":{"datum":0}}}
  ]},
  {"width":58,"height":92,"data":{"name":"bd"},"transform":[{"filter":"datum.s=='Glucosamine'"}],"layer":[
   {"transform":[{"filter":"isValid(datum.m)"}],"mark":{"type":"bar","strokeWidth":1.5},"encoding":{"x":{"field":"g","type":"nominal","scale":{"domain":["A","B"],"paddingInner":0.3,"paddingOuter":0.25,"align":0.75},"axis":{"orient":"top","title":"Glucosamine"}},"y":{"field":"m","type":"quantitative","scale":{"domain":[0,5000],"nice":false},"axis":{"title":null}},"fill":{"field":"g","type":"nominal"},"stroke":{"field":"g","type":"nominal"}}},
   {"transform":[{"filter":"isValid(datum.m)"}],"mark":{"type":"errorbar","ticks":true,"thickness":1.5},"encoding":{"x":{"field":"g","type":"nominal"},"y":{"field":"m","type":"quantitative"},"yError":{"field":"e"},"color":{"field":"g","type":"nominal","legend":null}}},
   {"transform":[{"filter":"isValid(datum.v)"}],"mark":{"type":"circle","size":10,"opacity":1},"encoding":{"x":{"field":"g","type":"nominal"},"xOffset":{"field":"k","type":"nominal"},"y":{"field":"v","type":"quantitative"},"color":{"field":"g","type":"nominal","legend":null}}},
   {"transform":[{"filter":"isValid(datum.m)"}],"mark":{"type":"tick","orient":"vertical","size":5,"yOffset":2.5,"thickness":1,"color":"#222"},"encoding":{"x":{"field":"g","type":"nominal"},"y":{"field":"by","type":"quantitative"}}},
   {"transform":[{"filter":"isValid(datum.p)"}],"mark":{"type":"rule","color":"#222","strokeWidth":1},"encoding":{"x":{"datum":"A"},"x2":{"datum":"B"},"y":{"field":"by","type":"quantitative"}}},
   {"transform":[{"filter":"isValid(datum.p)"}],"mark":{"type":"text","fontSize":11,"dy":-4,"baseline":"alphabetic"},"encoding":{"text":{"field":"p"},"y":{"field":"by","type":"quantitative"}}},
   {"transform":[{"filter":"isValid(datum.p)"}],"mark":{"type":"rule","strokeWidth":1.5,"color":"#111"},"encoding":{"y":{"datum":0}}}
  ]}
 ]},
 {"spacing":0,"hconcat":[
  {"width":58,"height":92,"data":{"name":"bd"},"transform":[{"filter":"datum.s=='Glucose'"}],"layer":[
   {"transform":[{"filter":"isValid(datum.m)"}],"mark":{"type":"bar","strokeWidth":1.5},"encoding":{"x":{"field":"g","type":"nominal","scale":{"domain":["A","B"],"paddingInner":0.3,"paddingOuter":0.25,"align":0.75},"axis":{"orient":"top","title":"Glucose"}},"y":{"field":"m","type":"quantitative","title":"Relative abundance","scale":{"domain":[0,600000],"nice":false},"axis":{"title":"Relative abundance","minExtent":34}},"fill":{"field":"g","type":"nominal"},"stroke":{"field":"g","type":"nominal"}}},
   {"transform":[{"filter":"isValid(datum.m)"}],"mark":{"type":"errorbar","ticks":true,"thickness":1.5},"encoding":{"x":{"field":"g","type":"nominal"},"y":{"field":"m","type":"quantitative","title":"Relative abundance"},"yError":{"field":"e"},"color":{"field":"g","type":"nominal","legend":null}}},
   {"transform":[{"filter":"isValid(datum.v)"}],"mark":{"type":"circle","size":10,"opacity":1},"encoding":{"x":{"field":"g","type":"nominal"},"xOffset":{"field":"k","type":"nominal"},"y":{"field":"v","type":"quantitative","title":"Relative abundance"},"color":{"field":"g","type":"nominal","legend":null}}},
   {"transform":[{"filter":"isValid(datum.m)"}],"mark":{"type":"tick","orient":"vertical","size":5,"yOffset":2.5,"thickness":1,"color":"#222"},"encoding":{"x":{"field":"g","type":"nominal"},"y":{"field":"by","type":"quantitative","title":"Relative abundance"}}},
   {"transform":[{"filter":"isValid(datum.p)"}],"mark":{"type":"rule","color":"#222","strokeWidth":1},"encoding":{"x":{"datum":"A"},"x2":{"datum":"B"},"y":{"field":"by","type":"quantitative","title":"Relative abundance"}}},
   {"transform":[{"filter":"isValid(datum.p)"}],"mark":{"type":"text","fontSize":11,"dy":-4,"baseline":"alphabetic"},"encoding":{"text":{"field":"p"},"y":{"field":"by","type":"quantitative","title":"Relative abundance"}}},
   {"transform":[{"filter":"isValid(datum.p)"}],"mark":{"type":"rule","strokeWidth":1.5,"color":"#111"},"encoding":{"y":{"datum":0}}}
  ]},
  {"width":58,"height":92,"data":{"name":"bd"},"transform":[{"filter":"datum.s=='Mannose'"}],"layer":[
   {"transform":[{"filter":"isValid(datum.m)"}],"mark":{"type":"bar","strokeWidth":1.5},"encoding":{"x":{"field":"g","type":"nominal","scale":{"domain":["A","B"],"paddingInner":0.3,"paddingOuter":0.25,"align":0.75},"axis":{"orient":"top","title":"Mannose"}},"y":{"field":"m","type":"quantitative","scale":{"domain":[0,800000],"nice":false},"axis":{"title":null}},"fill":{"field":"g","type":"nominal"},"stroke":{"field":"g","type":"nominal"}}},
   {"transform":[{"filter":"isValid(datum.m)"}],"mark":{"type":"errorbar","ticks":true,"thickness":1.5},"encoding":{"x":{"field":"g","type":"nominal"},"y":{"field":"m","type":"quantitative"},"yError":{"field":"e"},"color":{"field":"g","type":"nominal","legend":null}}},
   {"transform":[{"filter":"isValid(datum.v)"}],"mark":{"type":"circle","size":10,"opacity":1},"encoding":{"x":{"field":"g","type":"nominal"},"xOffset":{"field":"k","type":"nominal"},"y":{"field":"v","type":"quantitative"},"color":{"field":"g","type":"nominal","legend":null}}},
   {"transform":[{"filter":"isValid(datum.m)"}],"mark":{"type":"tick","orient":"vertical","size":5,"yOffset":2.5,"thickness":1,"color":"#222"},"encoding":{"x":{"field":"g","type":"nominal"},"y":{"field":"by","type":"quantitative"}}},
   {"transform":[{"filter":"isValid(datum.p)"}],"mark":{"type":"rule","color":"#222","strokeWidth":1},"encoding":{"x":{"datum":"A"},"x2":{"datum":"B"},"y":{"field":"by","type":"quantitative"}}},
   {"transform":[{"filter":"isValid(datum.p)"}],"mark":{"type":"text","fontSize":11,"dy":-4,"baseline":"alphabetic"},"encoding":{"text":{"field":"p"},"y":{"field":"by","type":"quantitative"}}},
   {"transform":[{"filter":"isValid(datum.p)"}],"mark":{"type":"rule","strokeWidth":1.5,"color":"#111"},"encoding":{"y":{"datum":0}}}
  ]},
  {"width":58,"height":92,"data":{"name":"bd"},"transform":[{"filter":"datum.s=='Rhamnose'"}],"layer":[
   {"transform":[{"filter":"isValid(datum.m)"}],"mark":{"type":"bar","strokeWidth":1.5},"encoding":{"x":{"field":"g","type":"nominal","scale":{"domain":["A","B"],"paddingInner":0.3,"paddingOuter":0.25,"align":0.75},"axis":{"orient":"top","title":"Rhamnose"}},"y":{"field":"m","type":"quantitative","scale":{"domain":[0,60000],"nice":false},"axis":{"title":null}},"fill":{"field":"g","type":"nominal"},"stroke":{"field":"g","type":"nominal"}}},
   {"transform":[{"filter":"isValid(datum.m)"}],"mark":{"type":"errorbar","ticks":true,"thickness":1.5},"encoding":{"x":{"field":"g","type":"nominal"},"y":{"field":"m","type":"quantitative"},"yError":{"field":"e"},"color":{"field":"g","type":"nominal","legend":null}}},
   {"transform":[{"filter":"isValid(datum.v)"}],"mark":{"type":"circle","size":10,"opacity":1},"encoding":{"x":{"field":"g","type":"nominal"},"xOffset":{"field":"k","type":"nominal"},"y":{"field":"v","type":"quantitative"},"color":{"field":"g","type":"nominal","legend":null}}},
   {"transform":[{"filter":"isValid(datum.m)"}],"mark":{"type":"tick","orient":"vertical","size":5,"yOffset":2.5,"thickness":1,"color":"#222"},"encoding":{"x":{"field":"g","type":"nominal"},"y":{"field":"by","type":"quantitative"}}},
   {"transform":[{"filter":"isValid(datum.p)"}],"mark":{"type":"rule","color":"#222","strokeWidth":1},"encoding":{"x":{"datum":"A"},"x2":{"datum":"B"},"y":{"field":"by","type":"quantitative"}}},
   {"transform":[{"filter":"isValid(datum.p)"}],"mark":{"type":"text","fontSize":11,"dy":-4,"baseline":"alphabetic"},"encoding":{"text":{"field":"p"},"y":{"field":"by","type":"quantitative"}}},
   {"transform":[{"filter":"isValid(datum.p)"}],"mark":{"type":"rule","strokeWidth":1.5,"color":"#111"},"encoding":{"y":{"datum":0}}}
  ]},
  {"width":58,"height":92,"data":{"name":"bd"},"transform":[{"filter":"datum.s=='Ribose'"}],"layer":[
   {"transform":[{"filter":"isValid(datum.m)"}],"mark":{"type":"bar","strokeWidth":1.5},"encoding":{"x":{"field":"g","type":"nominal","scale":{"domain":["A","B"],"paddingInner":0.3,"paddingOuter":0.25,"align":0.75},"axis":{"orient":"top","title":"Ribose"}},"y":{"field":"m","type":"quantitative","scale":{"domain":[0,80000],"nice":false},"axis":{"title":null}},"fill":{"field":"g","type":"nominal"},"stroke":{"field":"g","type":"nominal"}}},
   {"transform":[{"filter":"isValid(datum.m)"}],"mark":{"type":"errorbar","ticks":true,"thickness":1.5},"encoding":{"x":{"field":"g","type":"nominal"},"y":{"field":"m","type":"quantitative"},"yError":{"field":"e"},"color":{"field":"g","type":"nominal","legend":null}}},
   {"transform":[{"filter":"isValid(datum.v)"}],"mark":{"type":"circle","size":10,"opacity":1},"encoding":{"x":{"field":"g","type":"nominal"},"xOffset":{"field":"k","type":"nominal"},"y":{"field":"v","type":"quantitative"},"color":{"field":"g","type":"nominal","legend":null}}},
   {"transform":[{"filter":"isValid(datum.m)"}],"mark":{"type":"tick","orient":"vertical","size":5,"yOffset":2.5,"thickness":1,"color":"#222"},"encoding":{"x":{"field":"g","type":"nominal"},"y":{"field":"by","type":"quantitative"}}},
   {"transform":[{"filter":"isValid(datum.p)"}],"mark":{"type":"rule","color":"#222","strokeWidth":1},"encoding":{"x":{"datum":"A"},"x2":{"datum":"B"},"y":{"field":"by","type":"quantitative"}}},
   {"transform":[{"filter":"isValid(datum.p)"}],"mark":{"type":"text","fontSize":11,"dy":-4,"baseline":"alphabetic"},"encoding":{"text":{"field":"p"},"y":{"field":"by","type":"quantitative"}}},
   {"transform":[{"filter":"isValid(datum.p)"}],"mark":{"type":"rule","strokeWidth":1.5,"color":"#111"},"encoding":{"y":{"datum":0}}}
  ]},
  {"width":58,"height":92,"data":{"name":"bd"},"transform":[{"filter":"datum.s=='Xylose'"}],"layer":[
   {"transform":[{"filter":"isValid(datum.m)"}],"mark":{"type":"bar","strokeWidth":1.5},"encoding":{"x":{"field":"g","type":"nominal","scale":{"domain":["A","B"],"paddingInner":0.3,"paddingOuter":0.25,"align":0.75},"axis":{"orient":"top","title":"Xylose"}},"y":{"field":"m","type":"quantitative","scale":{"domain":[0,30000],"nice":false},"axis":{"title":null}},"fill":{"field":"g","type":"nominal"},"stroke":{"field":"g","type":"nominal"}}},
   {"transform":[{"filter":"isValid(datum.m)"}],"mark":{"type":"errorbar","ticks":true,"thickness":1.5},"encoding":{"x":{"field":"g","type":"nominal"},"y":{"field":"m","type":"quantitative"},"yError":{"field":"e"},"color":{"field":"g","type":"nominal","legend":null}}},
   {"transform":[{"filter":"isValid(datum.v)"}],"mark":{"type":"circle","size":10,"opacity":1},"encoding":{"x":{"field":"g","type":"nominal"},"xOffset":{"field":"k","type":"nominal"},"y":{"field":"v","type":"quantitative"},"color":{"field":"g","type":"nominal","legend":null}}},
   {"transform":[{"filter":"isValid(datum.m)"}],"mark":{"type":"tick","orient":"vertical","size":5,"yOffset":2.5,"thickness":1,"color":"#222"},"encoding":{"x":{"field":"g","type":"nominal"},"y":{"field":"by","type":"quantitative"}}},
   {"transform":[{"filter":"isValid(datum.p)"}],"mark":{"type":"rule","color":"#222","strokeWidth":1},"encoding":{"x":{"datum":"A"},"x2":{"datum":"B"},"y":{"field":"by","type":"quantitative"}}},
   {"transform":[{"filter":"isValid(datum.p)"}],"mark":{"type":"text","fontSize":11,"dy":-4,"baseline":"alphabetic"},"encoding":{"text":{"field":"p"},"y":{"field":"by","type":"quantitative"}}},
   {"transform":[{"filter":"isValid(datum.p)"}],"mark":{"type":"rule","strokeWidth":1.5,"color":"#111"},"encoding":{"y":{"datum":0}}}
  ]}
 ]}
 ]}
]}
